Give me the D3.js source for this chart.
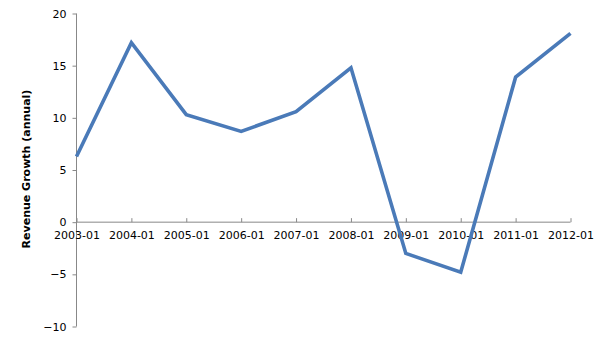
<!DOCTYPE html>
<html>
<head>
<meta charset="utf-8">
<script src="https://cdn.jsdelivr.net/npm/d3@7"></script>
<style>
body{margin:0;background:#fff;}
text{font-family:"DejaVu Sans",sans-serif;font-size:11px;fill:#000;}
</style>
</head>
<body>
<div id="chart"></div>
<script>
var periods=["2003-01","2004-01","2005-01","2006-01","2007-01","2008-01","2009-01","2010-01","2011-01","2012-01"];
var growth=[6.3,17.2,10.3,8.7,10.6,14.8,-3.0,-4.8,13.9,18.1];
var yTicks=[-10,-5,0,5,10,15,20];

var width=605,height=340;
var svg=d3.select("#chart").append("svg").attr("width",width).attr("height",height);

var x=d3.scalePoint().domain(periods).range([76.5,570.5]);
var y=d3.scaleLinear().domain([-10,20]).range([326.5,13.5]);

// y axis
var yAxis=svg.append("g").attr("transform","translate(76.5,0)")
	.call(d3.axisLeft(y).tickValues(yTicks).tickSize(4).tickPadding(6).tickFormat(d3.format("d")));
yAxis.select(".domain").attr("stroke","#888").attr("d","M0,"+y(-10)+"V"+y(20));
yAxis.selectAll(".tick line").attr("stroke","#888");
yAxis.selectAll("text").style("font-size","11px").attr("fill","#000");

// x axis at zero
var xAxis=svg.append("g").attr("transform","translate(0,"+y(0)+")")
	.call(d3.axisBottom(x).tickSize(-4).tickPadding(9));
xAxis.select(".domain").attr("stroke","#888").attr("d","M"+x(periods[0])+",0H"+x(periods[periods.length-1]));
xAxis.selectAll(".tick line").attr("stroke","#888");
xAxis.selectAll("text").style("font-size","11px").attr("fill","#000");

// y label
svg.append("text").attr("transform","translate(30,"+169+") rotate(-90)")
	.attr("text-anchor","middle").style("font-weight","bold").style("font-size","11px")
	.text("Revenue Growth (annual)");

// line
var line=d3.line().x(function(d,i){return x(periods[i]);}).y(function(d){return y(d);});
svg.append("path").datum(growth).attr("d",line)
	.attr("fill","none").attr("stroke","#4a7ab8").attr("stroke-width",3.6).attr("stroke-linejoin","miter");
</script>
</body>
</html>
